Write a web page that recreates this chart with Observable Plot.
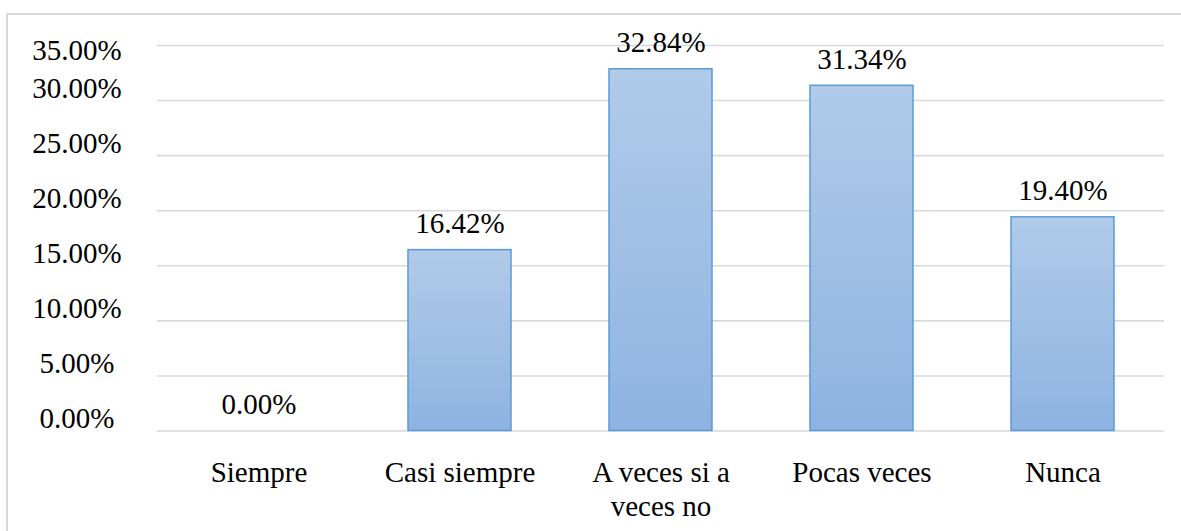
<!DOCTYPE html>
<html>
<head>
<meta charset="utf-8">
<script src="https://cdn.jsdelivr.net/npm/d3@7"></script>
<script src="https://cdn.jsdelivr.net/npm/@observablehq/plot@0.6"></script>
<style>
  html, body { margin: 0; padding: 0; background: #fff; }
  #wrap { position: relative; width: 1181px; height: 531px; overflow: hidden; }
  #frame { position: absolute; left: 6px; top: 13px; width: 1300px; height: 700px;
           border-left: 2px solid #d9d9d9; border-top: 2px solid #d9d9d9; box-sizing: border-box; }
  #chart { position: absolute; left: 0; top: 0; }
  #chart svg, #chart svg text, #chart svg g { font-family: "Liberation Serif", Tinos, "Times New Roman", Times, "DejaVu Serif", serif !important; }
</style>
</head>
<body>
<div id="wrap"><div id="frame"></div><div id="chart"></div></div>
<script>
const categories = ["Siempre", "Casi siempre", "A veces si a veces no", "Pocas veces", "Nunca"];
const tickLabels = ["Siempre", "Casi siempre", "A veces si a\nveces no", "Pocas veces", "Nunca"];
const values = [0.0, 0.1642, 0.3284, 0.3134, 0.1940];
const yTicks = [0, 0.05, 0.10, 0.15, 0.20, 0.25, 0.30, 0.35];

const data = categories.map((c, i) => ({category: c, value: values[i]}));
const pct = d3.format(".2%");
const font = "'Liberation Serif', Tinos, 'Times New Roman', Times, 'DejaVu Serif', serif";
const fs = 29;

const defs = () => {
  const svg = d3.create("svg:defs");
  const g = svg.append("linearGradient").attr("id", "barGrad")
    .attr("x1", 0).attr("y1", 0).attr("x2", 0).attr("y2", 1);
  g.append("stop").attr("offset", "0%").attr("stop-color", "#b1cbe9");
  g.append("stop").attr("offset", "100%").attr("stop-color", "#8eb3e2");
  return svg.node();
};

const chart = Plot.plot({
  width: 1181,
  height: 531,
  marginLeft: 157,
  marginRight: 17,
  marginTop: 45,
  marginBottom: 100.5,
  style: {fontFamily: font, fontSize: fs + "px", color: "#000", background: "transparent"},
  x: {domain: categories, paddingInner: 0.49, paddingOuter: 0.245, label: null},
  y: {domain: [0, 0.35], label: null},
  marks: [
    defs,
    Plot.ruleY(yTicks, {stroke: "#d9d9d9", strokeWidth: 1.6}),
    Plot.barY(data.filter(d => d.value > 0), {
      x: "category", y: "value", fill: "url(#barGrad)", stroke: "#5b9bd5", strokeWidth: 1.5
    }),
    Plot.text(data, {
      x: "category", y: "value", text: d => pct(d.value),
      lineAnchor: "bottom", dy: -17, fontSize: fs, fill: "#000"
    }),
    Plot.axisY(yTicks.filter(t => t < 0.35), {
      tickSize: 0, tickPadding: 0, textAnchor: "middle", dx: -80.5, dy: -12,
      tickFormat: pct, fontSize: fs, fill: "#000"
    }),
    Plot.axisY([0.35], {
      tickSize: 0, tickPadding: 0, textAnchor: "middle", dx: -80.5, dy: 5,
      tickFormat: pct, fontSize: fs, fill: "#000"
    }),
    Plot.axisX({
      tickSize: 0, tickPadding: 27, lineHeight: 1.17,
      tickFormat: d => tickLabels[categories.indexOf(d)],
      fontSize: fs, fill: "#000"
    })
  ]
});
document.getElementById("chart").append(chart);
</script>
</body>
</html>
